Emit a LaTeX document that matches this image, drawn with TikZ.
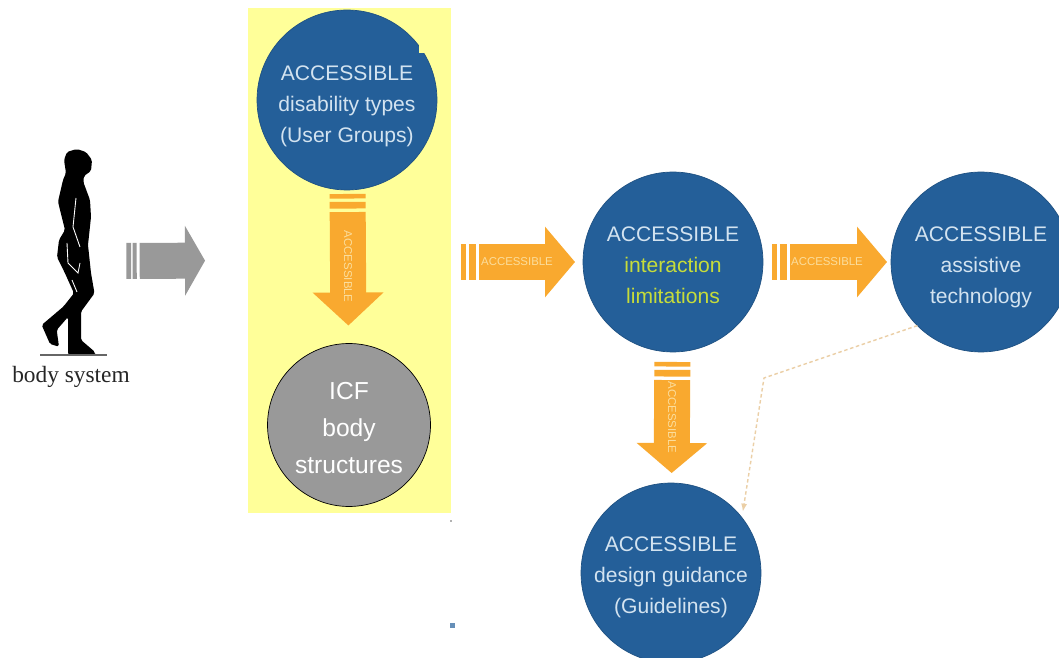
\documentclass[tikz,border=0pt]{standalone}
\usepackage{fontspec}
\setmainfont{Liberation Serif}
\setsansfont{Liberation Sans}
\usetikzlibrary{arrows.meta}

\definecolor{circblue}{HTML}{245F99}
\definecolor{circtext}{HTML}{D3E3F0}
\definecolor{limegreen}{HTML}{C6DC3A}
\definecolor{panelyellow}{HTML}{FFFF99}
\definecolor{floworange}{HTML}{F9A92F}
\definecolor{flowtext}{HTML}{FBDD9C}
\definecolor{flowgray}{HTML}{999999}
\definecolor{dashtan}{HTML}{EBCFA6}

\begin{document}
\begin{tikzpicture}[x=0.02cm, y=-0.02cm]
  \tikzstyle{circ}=[circle, inner sep = 0mm, outer sep = 0mm, align = center, text = circtext, font = \sffamily\fontsize{12}{17.5}\selectfont]
  \tikzstyle{bluecirc}=[circ, fill = circblue, draw = circblue!85!black, minimum size = 36mm]
  \tikzstyle{graycirc}=[circ, fill = black!40, draw = black, text = white, minimum size = 32.6mm, font = \sffamily\fontsize{14}{21}\selectfont]
  \tikzstyle{connect}=[line width = 7.2mm, draw = floworange, dash pattern = on 2.6pt off 1.9pt on 3.8pt off 2pt on 200pt, -{Triangle[length = 6mm, width = 13.8mm]}]
  \tikzstyle{flowlabel}=[text = flowtext, font = \sffamily\fontsize{6.5}{7}\selectfont]
  \tikzstyle{guide}=[draw = dashtan, thick, dash pattern = on 2pt off 1.5pt, -{Latex[length = 1.6mm]}]

  \clip (0,0) rectangle (1059,658);
  \fill[white] (0,0) rectangle (1059,658);

  % person
  \fill[black] [rounded corners = 1pt] (76.7,149) -- (86,152) -- (92,160) -- (91,171) -- (84,176) -- (83.3,182) -- (90,200) -- (91,217) -- (88,245) -- (91,273) -- (94.5,293.3) -- (81,311.7) -- (81,340) -- (95,352) -- (95,355) -- (68,355) -- (68,317) -- (56.7,330) -- (59,346.7) -- (50,344) -- (41.7,325) -- (63.3,306.7) -- (74,293.3) -- (65,273.3) -- (57,257) -- (59,240) -- (65,230) -- (58,201.7) -- (63,180) -- (66,173) -- (64,160) -- (67,152) -- cycle;
  \draw[white, line width = 0.5pt] (76,198) -- (73,227) -- (80,247);
  \draw[white, line width = 0.5pt] (67,243) -- (68,263) -- (78,273) -- (80,263);
  \draw[white, line width = 0.5pt] (72,280) -- (77,292);
  \draw[black!60, line width = 0.7pt] (40,355) -- (107,355);
  \node[inner sep = 0mm, minimum width = 13.4mm, minimum height = 49.6mm] (person) at (73.5,261) { };
  \node[font = \fontsize{13.3}{15}\selectfont, text = black!85] (caption) at (71,377) { body system };

  \node[fill = panelyellow, inner sep = 0mm, outer sep = 0mm, minimum width = 40.6mm, minimum height = 101mm] (panel) at (349.5,260.5) { };

  \node[bluecirc] (groups) at (347,100) { \rule{0pt}{15.6pt}ACCESSIBLE\\disability types\\(User Groups) };
  \node[graycirc] (icf) at (349,425) { \rule{0pt}{13.4pt}ICF\\body\\structures };
  \node[bluecirc] (inter) at (673,262) { \rule{0pt}{12pt}ACCESSIBLE\\{\color{limegreen}interaction}\\{\color{limegreen}limitations} };
  \node[bluecirc] (assist) at (981,262) { \rule{0pt}{14.2pt}ACCESSIBLE\\assistive\\technology };
  \node[bluecirc] (design) at (671,573) { \rule{0pt}{13.2pt}ACCESSIBLE\\design guidance\\(Guidelines) };

  \coordinate (bend) at (764,378);

  \draw[connect, draw = flowgray, dash pattern = on 2.7pt off 0.9pt on 2.3pt off 1.7pt on 200pt, shorten <= 3.8mm, shorten >= 8.6mm, -{Triangle[length = 4mm, width = 13.8mm]}] (person.east) -- (panel.west);
  \draw[connect, shorten <= 0.8mm, shorten >= 3.6mm, -{Triangle[length = 6.6mm, width = 13.8mm]}] (groups) -- (icf) node[flowlabel, midway, rotate = -90] { ACCESSIBLE };
  \draw[connect, shorten <= 2mm, shorten >= 1.6mm] (panel.east |- inter) -- (inter.west) node[flowlabel, pos = 0.5] { ACCESSIBLE };
  \draw[connect, shorten <= 1.8mm, shorten >= 0.8mm] (inter) -- (assist) node[flowlabel, midway] { ACCESSIBLE };
  \draw[connect, shorten <= 2mm, shorten >= 2mm] (inter) -- (design) node[flowlabel, midway, rotate = -90] { ACCESSIBLE };

  \draw[guide, shorten >= 1.2mm] (assist.225) -- (bend) -- (design.38);

  % stray marks
  \fill[panelyellow] (419,40) rectangle (434,53);
  \fill[circblue!70] (450,623) rectangle (455,628);
  \fill[black!30] (450,520) rectangle (452,522);
\end{tikzpicture}
\end{document}
